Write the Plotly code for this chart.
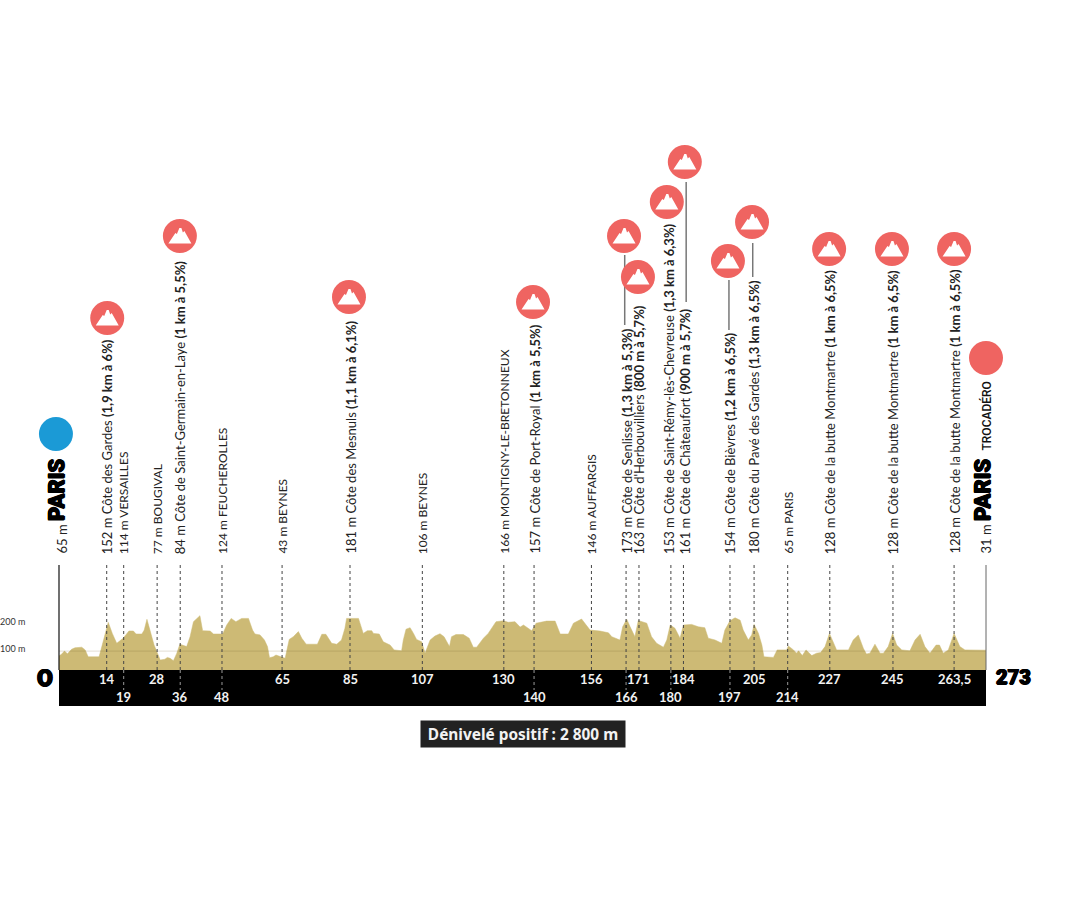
import plotly.graph_objects as go

# elevation profile
profile_km = [0, 0.8, 1.6, 2.5, 3.7, 4.7, 6.7, 7.7, 8.6, 11.8, 12.4, 13.3, 14.5, 15.7, 17.0, 18.9, 20.6, 21.9, 22.7, 24.4,
              25.1, 25.9, 26.8, 28.0, 29.0, 29.8, 31.2, 31.9, 32.7, 33.7, 34.7, 35.6, 37.6, 38.6, 39.6, 41.5, 42.3, 44.5, 45.5, 48.2,
              49.4, 50.7, 52.1, 53.8, 55.8, 57.0, 57.7, 59.2, 60.5, 61.4, 62.0, 63.1, 63.9, 65.3, 66.6, 67.8, 69.0, 70.5, 71.5, 72.8,
              76.1, 77.4, 78.6, 80.3, 81.8, 83.2, 84.2, 84.7, 88.2, 89.6, 90.8, 92.1, 92.6, 94.3, 95.5, 97.5,
              98.7, 100.9, 101.4, 102.2, 103.4, 104.4, 105.3, 106.8, 107.8, 109.3, 110.7, 112.2, 113.4, 115.0, 115.6, 116.9, 119.1, 120.8, 122.0, 123.0,
              125.0, 126.4, 128.7, 130.9, 132.3, 134.3, 135.8, 136.8, 138.2, 139.2, 140.5, 142.1, 143.6, 146.1, 147.6, 150.0, 151.5, 153.9, 154.9, 156.4,
              159.3, 161.8, 162.8, 165.2, 166.0, 167.2, 168.2, 169.6, 170.6, 173.1, 174.5, 176.0, 178.0, 179.0, 180.0, 181.4, 182.9, 183.9, 186.3, 188.3,
              190.2, 191.2, 193.2, 195.2, 196.1, 197.6,
              199.1, 200.6, 201.5, 203.0, 204.0, 204.7, 206.0, 207.0, 207.6, 210.4, 211.5, 214.3, 214.8, 216.3, 217.2, 217.8, 218.9, 220.0, 221.7, 223.1,
              224.3, 225.6, 226.9, 228.0, 229.0, 232.5, 233.9, 235.4, 236.9, 237.8, 238.8, 240.3, 241.8, 242.8, 244.2, 245.5, 246.7, 248.2, 250.6, 252.1,
              253.6, 255.0, 256.5, 258.3, 259.3, 260.4, 261.9, 263.6, 265.3, 266.8, 273]
profile_alt = [84, 90, 100, 91, 106, 111, 113, 104, 81, 81, 106, 148, 196, 159, 126, 143, 167, 167, 157, 157,
               170, 206, 165, 120, 93, 70, 73, 79, 76, 68, 93, 123, 115, 148, 198, 218, 168, 167, 157, 157,
               187, 209, 198, 209, 209, 170, 157, 154, 137, 115, 78, 81, 87, 81, 76, 139, 148, 165, 143, 123,
               123, 156, 156, 126, 123, 137, 176, 209, 209, 159, 168, 168, 159, 157, 131, 120,
               104, 101, 137, 173, 178, 159, 139, 131, 93, 137, 150, 158, 148, 115, 148, 155, 155, 143, 113, 113,
               143, 159, 198, 201, 196, 198, 180, 187, 176, 168, 193, 196, 200, 200, 157, 157, 193, 207, 193, 170,
               167, 161, 148, 137, 181, 206, 181, 148, 202, 193, 148, 126, 113, 137, 187, 176, 143, 187, 189, 181,
               178, 143, 137, 126, 170, 201,
               211, 203, 170, 137, 154, 189, 159, 120, 81, 79, 104, 104, 117, 104, 93, 101, 85, 104, 85, 93,
               95, 115, 159, 131, 104, 104, 137, 154, 109, 90, 93, 123, 93, 93, 115, 159, 120, 104, 101, 137,
               156, 115, 93, 120, 120, 93, 104, 159, 115, 104, 103]

# km markers: where they sit on the profile, and what they say
stop_km = [14.05, 19.05, 28.9, 35.7, 48, 65.7, 85.7, 107, 131, 139.9, 156.8, 167, 170.8, 180.2, 183.9, 197.6, 204.7, 214.6, 227, 245.6, 263.6]
stop_labels = ['14', '19', '28', '36', '48', '65', '85', '107', '130', '140', '156', '166', '171', '180', '184', '197', '205', '214', '227', '245', '263,5']
stop_rows = [1, 2, 1, 2, 2, 1, 1, 1, 1, 2, 1, 2, 1, 2, 1, 2, 1, 2, 1, 1, 1]
stop_names = [
    '152 m Côte des Gardes <b>(1,9 km à 6%)</b>',
    '114 m VERSAILLES',
    '77 m BOUGIVAL',
    '84 m Côte de Saint-Germain-en-Laye <b>(1 km à 5,5%)</b>',
    '124 m FEUCHEROLLES',
    '43 m BEYNES',
    '181 m Côte des Mesnuls <b>(1,1 km à 6,1%)</b>',
    '106 m BEYNES',
    '166 m MONTIGNY-LE-BRETONNEUX',
    '157 m Côte de Port-Royal <b>(1 km à 5,5%)</b>',
    '146 m AUFFARGIS',
    '173 m Côte de Senlisse <b>(1,3 km à 5,3%)</b>',
    "163 m Côte d'Herbouvilliers <b>(800 m à 5,7%)</b>",
    '153 m Côte de Saint-Rémy-lès-Chevreuse <b>(1,3 km à 6,3%)</b>',
    '161 m Côte de Châteaufort <b>(900 m à 5,7%)</b>',
    '154 m Côte de Bièvres <b>(1,2 km à 6,5%)</b>',
    '180 m Côte du Pavé des Gardes <b>(1,3 km à 6,5%)</b>',
    '65 m PARIS',
    '128 m Côte de la butte Montmartre <b>(1 km à 6,5%)</b>',
    '128 m Côte de la butte Montmartre <b>(1 km à 6,5%)</b>',
    '128 m Côte de la butte Montmartre <b>(1 km à 6,5%)</b>',
]

# climb icons, the second axis counts pixels from the top of the page
icon_km = [14.2, 35.6, 85.4, 139.6, 166.4, 170.5, 179.0, 184.3, 197.0, 204.1, 226.8, 245.3, 263.6]
icon_y = [318, 236, 297, 302, 236, 277, 202, 162, 261, 222, 249, 249, 249]
leader_km = [166.6, 184.7, 197.3, 204.3]
leader_top = [255, 182, 280, 243]
leader_bottom = [325, 302, 330, 277]

TOTAL_KM = 273
PX_PER_KM = 927 / TOTAL_KM
PX_PER_M = 0.3
LABEL_FONT = 'Lato'
THICK = '0.7px 0 0 black, -0.7px 0 0 black, 0 0.5px 0 black, 0 -0.5px 0 black'
HEAVY = dict(family='Roboto', weight=900, color='black', shadow=THICK)
MOUNTAIN = 'M-11.5,-7.5 L-4.5,3 L-3,2 L-0.5,8 L1.5,8 L3,3.5 L4.5,5 L11.5,-7.5 Z'

fig = go.Figure()
fig.add_trace(go.Scatter(x=profile_km, y=profile_alt, mode='lines', fill='tozeroy',
                         fillcolor='#cdba75', line=dict(color='#cdba75', width=0.5), hoverinfo='skip'))
fig.add_trace(go.Scatter(x=icon_km, y=icon_y, yaxis='y2', mode='markers', hoverinfo='skip',
                         marker=dict(size=34, color='#ef6461')))
fig.add_trace(go.Scatter(x=[-0.9], y=[434], yaxis='y2', mode='markers', hoverinfo='skip',
                         marker=dict(size=34, color='#1b9ad6')))
fig.add_trace(go.Scatter(x=[TOTAL_KM], y=[358], yaxis='y2', mode='markers', hoverinfo='skip',
                         marker=dict(size=34, color='#ef6461')))

# black km band, then lines on top of it
fig.add_shape(type='rect', x0=0, x1=TOTAL_KM, y0=670, y1=706, yref='y2', fillcolor='black', line_width=0)
fig.add_shape(type='line', x0=0, x1=TOTAL_KM, y0=100, y1=100, line=dict(color='rgba(110,90,40,0.2)', width=1))
fig.add_shape(type='line', x0=0, x1=0, y0=565, y1=670, yref='y2', line=dict(color='#111', width=1.2))
fig.add_shape(type='line', x0=TOTAL_KM, x1=TOTAL_KM, y0=565, y1=670, yref='y2', line=dict(color='#666', width=1))

for km, label, row, name in zip(stop_km, stop_labels, stop_rows, stop_names):
    fig.add_shape(type='line', x0=km, x1=km, y0=565, y1=670, yref='y2', line=dict(color='#444', width=1, dash='3px,3px'))
    if row == 2:
        fig.add_shape(type='line', x0=km, x1=km, y0=670, y1=690, yref='y2', line=dict(color='#999', width=1, dash='3px,3px'))
    fig.add_annotation(x=km, y=679 if row == 1 else 697, yref='y2', text='<b>' + label + '</b>', showarrow=False,
                       font=dict(family=LABEL_FONT, size=13, color='#f2f2f2'))
    # town names are in capitals and run narrower in the reference
    shift = -2 if label == '180' else 2 if label == '184' else 0
    fig.add_annotation(x=km, y=556, yref='y2', text=name, showarrow=False, textangle=-90, yanchor='bottom', xshift=shift,
                       font=dict(family=LABEL_FONT, size=13 if '<b>' in name else 12, color='#222'))

for km, top, bottom in zip(leader_km, leader_top, leader_bottom):
    fig.add_shape(type='line', layer='below', x0=km, x1=km, y0=top, y1=bottom, yref='y2', line=dict(color='#777', width=1.5))

for km, y in zip(icon_km, icon_y):
    fig.add_shape(type='path', path=MOUNTAIN, xsizemode='pixel', ysizemode='pixel', xanchor=km, yanchor=y,
                  yref='y2', fillcolor='white', line_width=0)

# start and finish labels
fig.add_annotation(x=0, y=556, yref='y2', text='65 m', showarrow=False, textangle=-90, yanchor='bottom', xshift=2,
                   font=dict(family=LABEL_FONT, size=13, color='#222'))
fig.add_annotation(x=0, y=523, yref='y2', text='PARIS', showarrow=False, textangle=-90, yanchor='bottom', xshift=-3,
                   font=dict(size=22, **HEAVY))
fig.add_annotation(x=TOTAL_KM, y=556, yref='y2', text='31 m', showarrow=False, textangle=-90, yanchor='bottom', xshift=-1,
                   font=dict(family=LABEL_FONT, size=13, color='#222'))
fig.add_annotation(x=TOTAL_KM, y=523, yref='y2', text='PARIS', showarrow=False, textangle=-90, yanchor='bottom', xshift=-4,
                   font=dict(size=22, **HEAVY))
fig.add_annotation(x=TOTAL_KM, y=453, yref='y2', text='TROCADÉRO', showarrow=False, textangle=-90, yanchor='bottom',
                   font=dict(family='Roboto', weight=500, size=12, color='#111'))
fig.add_annotation(x=0, y=678, yref='y2', text='O', showarrow=False, xshift=-14, font=dict(size=23, **HEAVY))
fig.add_annotation(x=TOTAL_KM, y=677, yref='y2', text='273', showarrow=False, xshift=27, font=dict(size=20, **HEAVY))

fig.add_annotation(x=-59 / PX_PER_KM, y=621, yref='y2', text='200 m', showarrow=False, xanchor='left', xshift=-2,
                   font=dict(family=LABEL_FONT, size=9, color='#333'))
fig.add_annotation(x=-59 / PX_PER_KM, y=648, yref='y2', text='100 m', showarrow=False, xanchor='left', xshift=-2,
                   font=dict(family=LABEL_FONT, size=9, color='#333'))

fig.add_annotation(x=136.5, y=734, yref='y2', text='<b>Dénivelé positif : 2 800 m</b>', showarrow=False,
                   width=202, height=24, bgcolor='#222222', valign='middle',
                   font=dict(family='Noto Sans', size=15.4, color='#f2f2f2'))

fig.update_layout(
    width=1080, height=908, margin=dict(l=0, r=0, t=0, b=0),
    paper_bgcolor='white', plot_bgcolor='white', showlegend=False,
    xaxis=dict(range=[-59 / PX_PER_KM, 1021 / PX_PER_KM], visible=False),
    yaxis=dict(range=[37 - 238 / PX_PER_M, 37 + 670 / PX_PER_M], visible=False),
    yaxis2=dict(range=[908, 0], overlaying='y', visible=False),
)

fig.write_html('out.html', config=dict(displayModeBar=False), post_script="document.body.style.margin='0';")
